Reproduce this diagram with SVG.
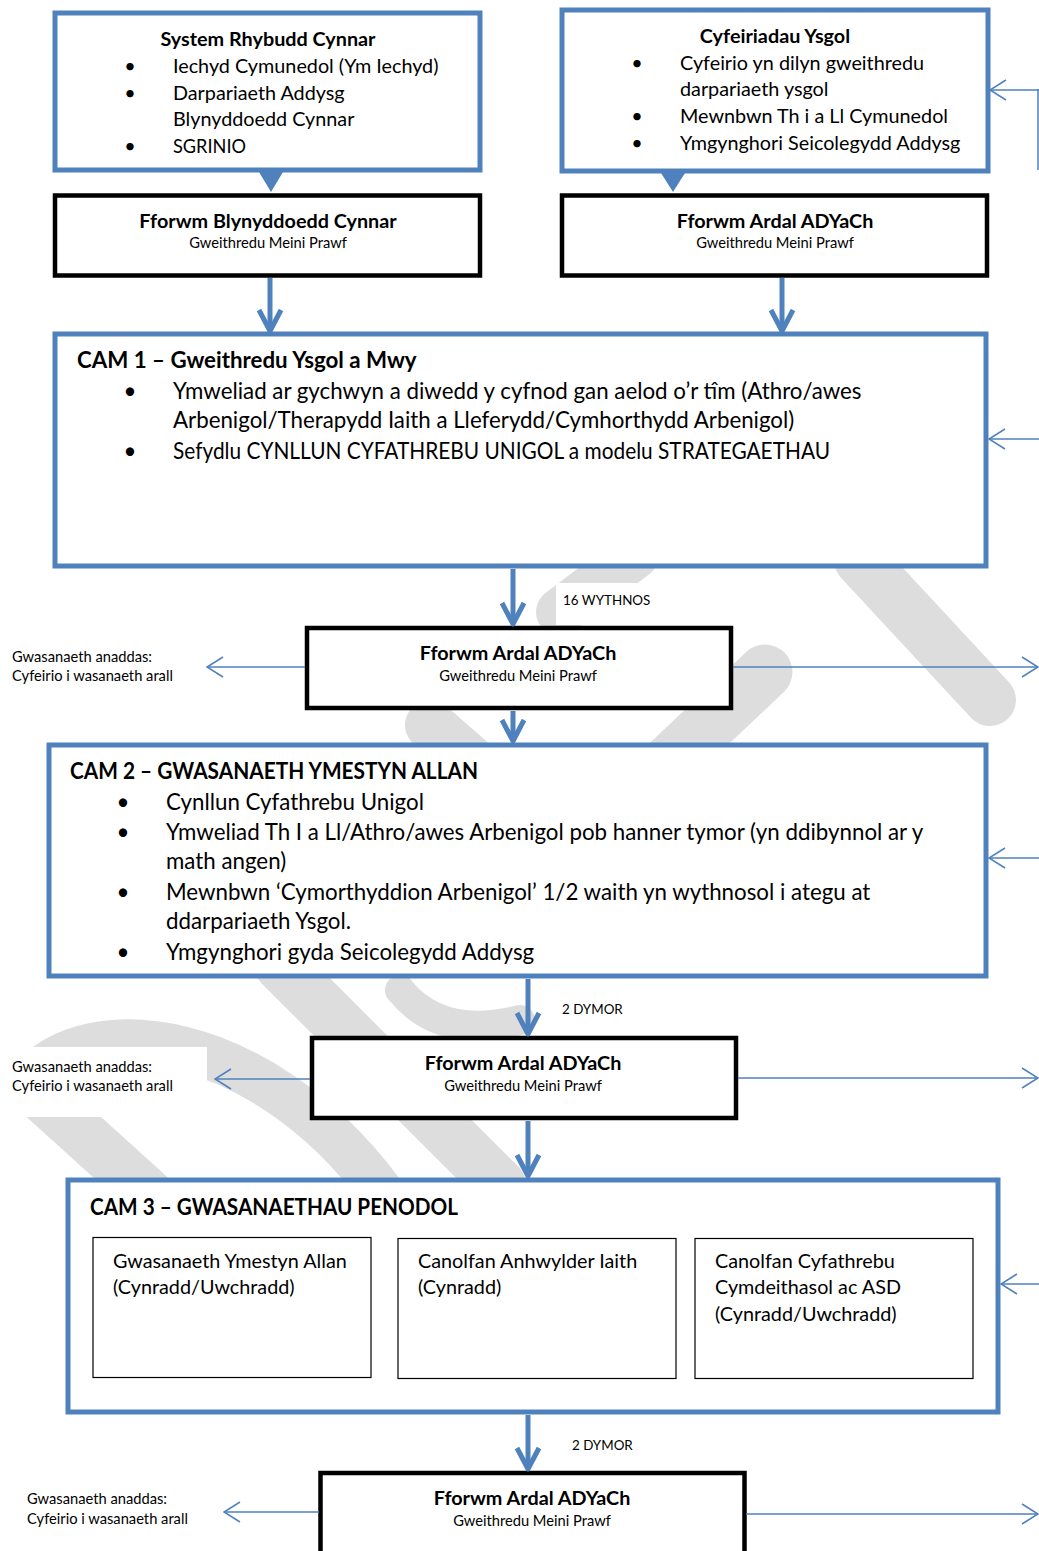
<svg xmlns="http://www.w3.org/2000/svg" width="1039" height="1551" viewBox="0 0 1039 1551">
<defs>
<style>
.t{font-family:Lato,"Open Sans","Liberation Sans",sans-serif;fill:#000}
.b{font-weight:bold}
.s19{font-size:19.8px}
.s21{font-size:22.3px}
.s13{font-size:13.4px}
.s14{font-size:14.7px}
.bx{fill:#fff;stroke:#4f81bd;stroke-width:5}
.fb{fill:#fff;stroke:#000;stroke-width:4.5}
.ib{fill:#fff;stroke:#000;stroke-width:1.2}
.thick{stroke:#4f81bd;stroke-width:5;fill:none}
.thin{stroke:#4f81bd;stroke-width:1.5;fill:none}
.wm{stroke:#dddddd;fill:none;stroke-linecap:round}
.wb{fill:#fff}
</style>
<marker id="ah" viewBox="0 0 20 24" markerWidth="20" markerHeight="24" refX="19" refY="12" orient="auto" markerUnits="userSpaceOnUse">
<path d="M3,2 L19,12 L3,22" fill="none" stroke="#4f81bd" stroke-width="1.5"/>
</marker>
<marker id="ch" viewBox="-4 -4 32 32" markerWidth="32" markerHeight="32" refX="22" refY="12" orient="auto" markerUnits="userSpaceOnUse">
<path d="M1,1 L22,12 L1,23" fill="none" stroke="#4f81bd" stroke-width="5" stroke-linejoin="round"/>
</marker>
</defs>
<rect width="1039" height="1551" fill="#fff"/>
<g id="watermark">
<line class="wm" x1="860" y1="560" x2="990" y2="700" stroke-width="52"/>
<line class="wm" x1="765" y1="672" x2="640" y2="790" stroke-width="55"/>
<line class="wm" x1="430" y1="725" x2="470" y2="760" stroke-width="50"/>
<line class="wm" x1="635" y1="555" x2="560" y2="612" stroke-width="48"/>
<line class="wm" x1="280" y1="965" x2="500" y2="1185" stroke-width="52"/>
<path class="wm" d="M30,1080 C90,1010 260,1030 380,1190" stroke-width="45"/>
<line class="wm" x1="45" y1="1100" x2="150" y2="1195" stroke-width="50"/>
<path class="wm" d="M400,990 Q440,1040 520,1020" stroke-width="30"/>
</g>
<g id="label-bg">
<rect class="wb" x="556" y="583" width="104" height="42"/>
<rect class="wb" x="0" y="1047" width="207" height="70"/>
</g>
<g id="nodes">
<g id="n-system">
<rect class="bx" x="55" y="13" width="425" height="157"/>
<text class="t b s19" x="268" y="46" text-anchor="middle">System Rhybudd Cynnar</text>
<g class="t s19">
<text x="130" y="73" text-anchor="middle">•</text><text x="173" y="73">Iechyd Cymunedol (Ym Iechyd)</text>
<text x="130" y="100" text-anchor="middle">•</text><text x="173" y="100">Darpariaeth Addysg</text>
<text x="173" y="126">Blynyddoedd Cynnar</text>
<text x="130" y="153" text-anchor="middle">•</text><text x="173" y="153" textLength="73" lengthAdjust="spacingAndGlyphs">SGRINIO</text>
</g>
</g>
<g id="n-cyfeiriadau">
<rect class="bx" x="562" y="10" width="426" height="161"/>
<text class="t b s19" x="775" y="43" text-anchor="middle">Cyfeiriadau Ysgol</text>
<g class="t s19">
<text x="637" y="70" text-anchor="middle">•</text><text x="680" y="70">Cyfeirio yn dilyn gweithredu</text>
<text x="680" y="96">darpariaeth ysgol</text>
<text x="637" y="123" text-anchor="middle">•</text><text x="680" y="123">Mewnbwn Th i a Ll Cymunedol</text>
<text x="637" y="150" text-anchor="middle">•</text><text x="680" y="150">Ymgynghori Seicolegydd Addysg</text>
</g>
</g>
<g id="n-fforwm-by">
<rect class="fb" x="55" y="195.5" width="425" height="80"/>
<text class="t b s19" x="268" y="228" text-anchor="middle">Fforwm Blynyddoedd Cynnar</text>
<text class="t s14" x="268" y="248" text-anchor="middle">Gweithredu Meini Prawf</text>
</g>
<g id="n-fforwm-1">
<rect class="fb" x="562" y="195.5" width="425" height="80"/>
<text class="t b s19" x="775" y="228" text-anchor="middle">Fforwm Ardal ADYaCh</text>
<text class="t s14" x="775" y="248" text-anchor="middle">Gweithredu Meini Prawf</text>
</g>
<g id="n-cam1">
<rect class="bx" x="55" y="334" width="931" height="232"/>
<text class="t b s21" x="77" y="368">CAM 1 – Gweithredu Ysgol a Mwy</text>
<g class="t s21">
<text x="130" y="399" text-anchor="middle">•</text><text x="173" y="399">Ymweliad ar gychwyn a diwedd y cyfnod gan aelod o’r tîm (Athro/awes</text>
<text x="173" y="428">Arbenigol/Therapydd Iaith a Lleferydd/Cymhorthydd Arbenigol)</text>
<text x="130" y="459" text-anchor="middle">•</text><text x="173" y="459" textLength="657" lengthAdjust="spacingAndGlyphs">Sefydlu CYNLLUN CYFATHREBU UNIGOL a modelu STRATEGAETHAU</text>
</g>
</g>
<g id="n-fforwm-2">
<rect class="fb" x="307" y="628" width="424" height="80"/>
<text class="t b s19" x="518" y="660" text-anchor="middle">Fforwm Ardal ADYaCh</text>
<text class="t s14" x="518" y="681" text-anchor="middle">Gweithredu Meini Prawf</text>
</g>
<g id="n-cam2">
<rect class="bx" x="49" y="745" width="937" height="231"/>
<text class="t b s21" x="70" y="779" textLength="408" lengthAdjust="spacingAndGlyphs">CAM 2 – GWASANAETH YMESTYN ALLAN</text>
<g class="t s21">
<text x="123" y="810" text-anchor="middle">•</text><text x="166" y="810">Cynllun Cyfathrebu Unigol</text>
<text x="123" y="840" text-anchor="middle">•</text><text x="166" y="840">Ymweliad Th I a Ll/Athro/awes Arbenigol pob hanner tymor (yn ddibynnol ar y</text>
<text x="166" y="869">math angen)</text>
<text x="123" y="900" text-anchor="middle">•</text><text x="166" y="900">Mewnbwn ‘Cymorthyddion Arbenigol’ 1/2 waith yn wythnosol i ategu at</text>
<text x="166" y="929">ddarpariaeth Ysgol.</text>
<text x="123" y="960" text-anchor="middle">•</text><text x="166" y="960">Ymgynghori gyda Seicolegydd Addysg</text>
</g>
</g>
<g id="n-fforwm-3">
<rect class="fb" x="312" y="1038" width="424" height="80"/>
<text class="t b s19" x="523" y="1070" text-anchor="middle">Fforwm Ardal ADYaCh</text>
<text class="t s14" x="523" y="1091" text-anchor="middle">Gweithredu Meini Prawf</text>
</g>
<g id="n-cam3">
<rect class="bx" x="68" y="1180" width="930" height="232"/>
<text class="t b s21" x="90" y="1215" textLength="368" lengthAdjust="spacingAndGlyphs">CAM 3 – GWASANAETHAU PENODOL</text>
<rect class="ib" x="93" y="1237.5" width="278" height="140"/>
<rect class="ib" x="398" y="1238.5" width="278" height="140"/>
<rect class="ib" x="695" y="1238.5" width="278" height="140"/>
<g class="t s19">
<text x="113" y="1268">Gwasanaeth Ymestyn Allan</text>
<text x="113" y="1294">(Cynradd/Uwchradd)</text>
<text x="418" y="1268">Canolfan Anhwylder Iaith</text>
<text x="418" y="1294">(Cynradd)</text>
<text x="715" y="1268">Canolfan Cyfathrebu</text>
<text x="715" y="1294">Cymdeithasol ac ASD</text>
<text x="715" y="1321">(Cynradd/Uwchradd)</text>
</g>
</g>
<g id="n-fforwm-4">
<rect class="fb" x="320.5" y="1473" width="424" height="100"/>
<text class="t b s19" x="532" y="1505" text-anchor="middle">Fforwm Ardal ADYaCh</text>
<text class="t s14" x="532" y="1526" text-anchor="middle">Gweithredu Meini Prawf</text>
</g>
<g id="n-labels" class="t s14">
<text x="12" y="662">Gwasanaeth anaddas:</text>
<text x="12" y="681">Cyfeirio i wasanaeth arall</text>
<text x="12" y="1072">Gwasanaeth anaddas:</text>
<text x="12" y="1091">Cyfeirio i wasanaeth arall</text>
<text x="27" y="1504">Gwasanaeth anaddas:</text>
<text x="27" y="1524">Cyfeirio i wasanaeth arall</text>
<text class="s13" x="563" y="605">16 WYTHNOS</text>
<text class="s13" x="562" y="1014">2 DYMOR</text>
<text class="s13" x="572" y="1450">2 DYMOR</text>
</g>
</g>
<g id="connectors">
<polygon points="259,172 283,172 271,192" fill="#4f81bd"/>
<polygon points="661,173 685,173 673,192" fill="#4f81bd"/>
<line class="thick" x1="270" y1="278" x2="270" y2="331" marker-end="url(#ch)"/>
<line class="thick" x1="782" y1="278" x2="782" y2="331" marker-end="url(#ch)"/>
<line class="thick" x1="513" y1="569" x2="513" y2="624" marker-end="url(#ch)"/>
<line class="thick" x1="513" y1="711" x2="513" y2="741" marker-end="url(#ch)"/>
<line class="thick" x1="528" y1="979" x2="528" y2="1034" marker-end="url(#ch)"/>
<line class="thick" x1="528" y1="1121" x2="528" y2="1176" marker-end="url(#ch)"/>
<line class="thick" x1="528" y1="1415" x2="528" y2="1469" marker-end="url(#ch)"/>
<line class="thin" x1="1038" y1="89" x2="1038" y2="170"/>
<line class="thin" x1="1039" y1="90" x2="990" y2="90" marker-end="url(#ah)"/>
<line class="thin" x1="1039" y1="439" x2="989" y2="439" marker-end="url(#ah)"/>
<line class="thin" x1="1039" y1="858" x2="989" y2="858" marker-end="url(#ah)"/>
<line class="thin" x1="1039" y1="1284" x2="1001" y2="1284" marker-end="url(#ah)"/>
<line class="thin" x1="305" y1="667" x2="207" y2="667" marker-end="url(#ah)"/>
<line class="thin" x1="733" y1="667" x2="1038" y2="667" marker-end="url(#ah)"/>
<line class="thin" x1="310" y1="1079" x2="215" y2="1079" marker-end="url(#ah)"/>
<line class="thin" x1="738" y1="1078" x2="1038" y2="1078" marker-end="url(#ah)"/>
<line class="thin" x1="319" y1="1512" x2="224" y2="1512" marker-end="url(#ah)"/>
<line class="thin" x1="746" y1="1514" x2="1038" y2="1514" marker-end="url(#ah)"/>
</g>
</svg>
